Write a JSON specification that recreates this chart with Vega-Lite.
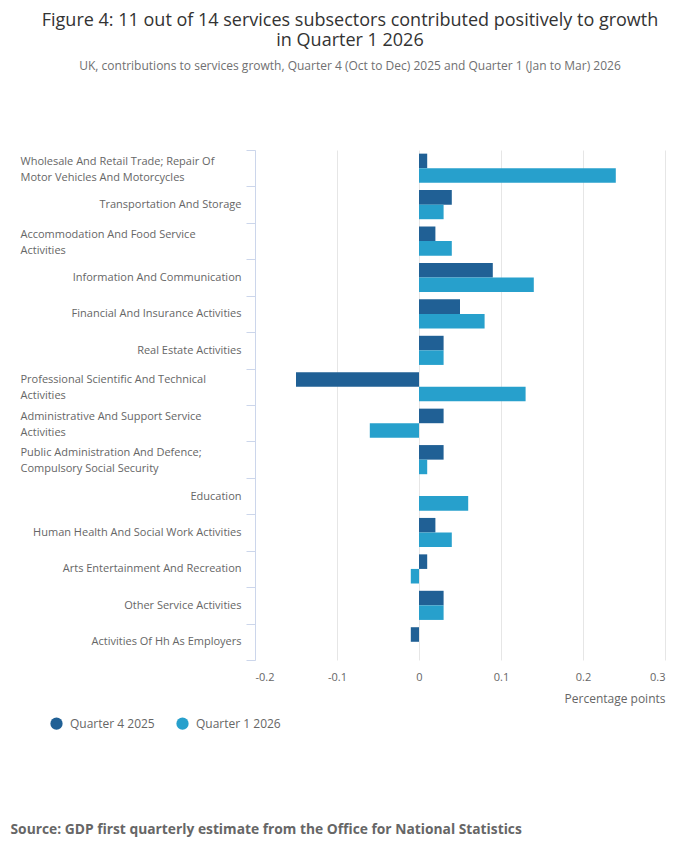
{
  "$schema": "https://vega.github.io/schema/vega-lite/v6.json",
  "autosize": {"type": "none"},
  "padding": {"left": 255, "top": 150, "right": 35, "bottom": 197},
  "background": "white",
  "config": {"view": {"stroke": null}},
  "title": {
    "text": ["Figure 4: 11 out of 14 services subsectors contributed positively to growth", "in Quarter 1 2026"],
    "subtitle": "UK, contributions to services growth, Quarter 4 (Oct to Dec) 2025 and Quarter 1 (Jan to Mar) 2026",
    "anchor": "middle",
    "frame": "group",
    "dx": -110,
    "offset": 72,
    "font": "Open Sans",
    "fontSize": 18,
    "fontWeight": "normal",
    "lineHeight": 19.5,
    "color": "#333333",
    "subtitleFont": "Open Sans",
    "subtitleFontSize": 12,
    "subtitleColor": "#707071",
    "subtitlePadding": 11.5
  },
  "width": 410,
  "height": 510,
  "data": {
    "values": [
      {"sector": "Wholesale And Retail Trade; Repair Of|Motor Vehicles And Motorcycles", "quarter": "Quarter 4 2025", "value": 0.01},
      {"sector": "Wholesale And Retail Trade; Repair Of|Motor Vehicles And Motorcycles", "quarter": "Quarter 1 2026", "value": 0.24},
      {"sector": "Transportation And Storage", "quarter": "Quarter 4 2025", "value": 0.04},
      {"sector": "Transportation And Storage", "quarter": "Quarter 1 2026", "value": 0.03},
      {"sector": "Accommodation And Food Service|Activities", "quarter": "Quarter 4 2025", "value": 0.02},
      {"sector": "Accommodation And Food Service|Activities", "quarter": "Quarter 1 2026", "value": 0.04},
      {"sector": "Information And Communication", "quarter": "Quarter 4 2025", "value": 0.09},
      {"sector": "Information And Communication", "quarter": "Quarter 1 2026", "value": 0.14},
      {"sector": "Financial And Insurance Activities", "quarter": "Quarter 4 2025", "value": 0.05},
      {"sector": "Financial And Insurance Activities", "quarter": "Quarter 1 2026", "value": 0.08},
      {"sector": "Real Estate Activities", "quarter": "Quarter 4 2025", "value": 0.03},
      {"sector": "Real Estate Activities", "quarter": "Quarter 1 2026", "value": 0.03},
      {"sector": "Professional Scientific And Technical|Activities", "quarter": "Quarter 4 2025", "value": -0.15},
      {"sector": "Professional Scientific And Technical|Activities", "quarter": "Quarter 1 2026", "value": 0.13},
      {"sector": "Administrative And Support Service|Activities", "quarter": "Quarter 4 2025", "value": 0.03},
      {"sector": "Administrative And Support Service|Activities", "quarter": "Quarter 1 2026", "value": -0.06},
      {"sector": "Public Administration And Defence;|Compulsory Social Security", "quarter": "Quarter 4 2025", "value": 0.03},
      {"sector": "Public Administration And Defence;|Compulsory Social Security", "quarter": "Quarter 1 2026", "value": 0.01},
      {"sector": "Education", "quarter": "Quarter 4 2025", "value": 0},
      {"sector": "Education", "quarter": "Quarter 1 2026", "value": 0.06},
      {"sector": "Human Health And Social Work Activities", "quarter": "Quarter 4 2025", "value": 0.02},
      {"sector": "Human Health And Social Work Activities", "quarter": "Quarter 1 2026", "value": 0.04},
      {"sector": "Arts Entertainment And Recreation", "quarter": "Quarter 4 2025", "value": 0.01},
      {"sector": "Arts Entertainment And Recreation", "quarter": "Quarter 1 2026", "value": -0.01},
      {"sector": "Other Service Activities", "quarter": "Quarter 4 2025", "value": 0.03},
      {"sector": "Other Service Activities", "quarter": "Quarter 1 2026", "value": 0.03},
      {"sector": "Activities Of Hh As Employers", "quarter": "Quarter 4 2025", "value": -0.01},
      {"sector": "Activities Of Hh As Employers", "quarter": "Quarter 1 2026", "value": 0}
    ]
  },
  "mark": {"type": "bar"},
  "encoding": {
    "y": {
      "field": "sector",
      "type": "nominal",
      "sort": null,
      "scale": {"paddingInner": 0, "paddingOuter": 0},
      "axis": {
        "title": "Source: GDP first quarterly estimate from the Office for National Statistics",
        "titleAngle": 0,
        "titleX": -245,
        "titleY": 679,
        "titleAlign": "left",
        "titleBaseline": "middle",
        "titleFont": "Open Sans",
        "titleFontSize": 13.8,
        "titleFontWeight": "bold",
        "titleColor": "#666666",
        "labelExpr": "isValid(datum.value) ? split(datum.value, '|') : ''",
        "tickBand": "extent",
        "tickSize": 9,
        "tickColor": "#ccd6eb",
        "domainColor": "#ccd6eb",
        "labelColor": "#666666",
        "labelFont": "Open Sans",
        "labelFontSize": 11,
        "labelLineHeight": 16,
        "labelLimit": 300,
        "labelAlign": {"condition": {"test": "indexof('' + datum.value, '|') >= 0", "value": "left"}, "value": "right"},
        "labelPadding": {"condition": {"test": "indexof('' + datum.value, '|') >= 0", "value": 226}, "value": 5},
        "labelOffset": {"condition": {"test": "indexof('' + datum.value, '|') >= 0", "value": -7}, "value": 0},
        "grid": false
      }
    },
    "yOffset": {
      "field": "quarter",
      "sort": ["Quarter 4 2025", "Quarter 1 2026"],
      "scale": {"paddingInner": 0, "paddingOuter": 0.25}
    },
    "x": {
      "field": "value",
      "type": "quantitative",
      "scale": {"domain": [-0.2, 0.3], "nice": false},
      "axis": {
        "title": "Percentage points",
        "titleAnchor": "end",
        "titleFont": "Open Sans",
        "titleFontWeight": "normal",
        "titleFontSize": 12,
        "titleColor": "#666666",
        "titlePadding": 11,
        "values": [-0.2, -0.1, 0, 0.1, 0.2, 0.3],
        "labelExpr": "toString(round(datum.value * 10) / 10)",
        "labelFont": "Open Sans",
        "labelFontSize": 11,
        "labelColor": "#666666",
        "labelPadding": 11,
        "ticks": false,
        "domain": false,
        "grid": true,
        "gridColor": "#e6e6e6"
      }
    },
    "color": {
      "field": "quarter",
      "type": "nominal",
      "scale": {"domain": ["Quarter 4 2025", "Quarter 1 2026"], "range": ["#206095", "#27a0cc"]},
      "legend": {
        "title": null,
        "orient": "none",
        "legendX": -205,
        "legendY": 567,
        "direction": "horizontal",
        "symbolType": "circle",
        "symbolSize": 150,
        "symbolStrokeWidth": 0,
        "labelFont": "Open Sans",
        "labelFontSize": 12,
        "labelColor": "#666666",
        "labelOffset": 7,
        "columnPadding": 21,
        "padding": 0
      }
    }
  }
}
